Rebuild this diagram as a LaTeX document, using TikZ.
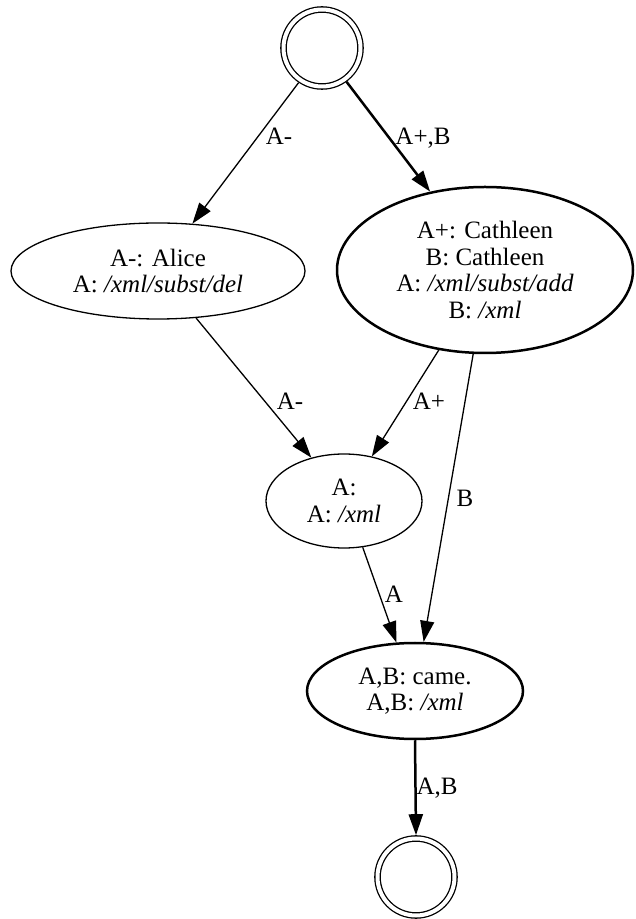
\documentclass[tikz,border=0pt]{standalone}
\usepackage{fontspec}
\setmainfont{Liberation Serif}
\usetikzlibrary{shapes.geometric,arrows.meta}
\newcommand\gvfont{\fontsize{25}{26.5}\selectfont}
\begin{document}
\begin{tikzpicture}[x=1pt,y=1pt,
  state/.style={ellipse, draw, line width=1.3pt, inner sep=0pt, align=center, font=\gvfont},
  bold state/.style={state, line width=2.5pt},
  terminal/.style={circle, draw, line width=1.3pt, double, double distance=4pt,
    minimum size=77pt, inner sep=0pt, outer sep=3.3pt},
  edge/.style={-{Triangle[length=21pt,width=14pt]}, line width=1.3pt},
  bold edge/.style={edge, line width=2.5pt},
  elabel/.style={font=\gvfont, inner sep=0pt, anchor=base}
]
\useasboundingbox (0,0) rectangle (635,919);

% states
\node[terminal] (start) at (322,871) {};
\node[state, minimum width=294pt, minimum height=96pt] (alice) at (158,648)
  {A-: Alice\\A: \textit{/xml/subst/del}};
\node[bold state, minimum width=296pt, minimum height=166pt] (cath) at (485,649)
  {A+: Cathleen\\B: Cathleen\\A: \textit{/xml/subst/add}\\B: \textit{/xml}};
\node[state, minimum width=156pt, minimum height=94pt] (mid) at (344,418)
  {A:\\A: \textit{/xml}};
\node[bold state, minimum width=216pt, minimum height=96pt] (came) at (415,228)
  {A,B: came.\\A,B: \textit{/xml}};
\node[terminal] (end) at (416,42) {};

% transitions
\draw[edge] (start.236) -- (alice.54);
\draw[bold edge] (start.306) -- (cath.125);
\draw[edge] (alice.309) -- (mid.127);
\draw[edge] (cath.240) -- (mid.58);
\draw[edge] (cath.262) -- (came.80);
\draw[edge] (mid.292) -- (came.111);
\draw[bold edge] (came.south) -- (end.north);

% transition labels
\node[elabel] (l1) at (279,774) {A-};
\node[elabel] (l2) at (423,774) {A+,B};
\node[elabel] (l3) at (290,509) {A-};
\node[elabel] (l4) at (429,509) {A+};
\node[elabel] (l5) at (465,412) {B};
\node[elabel] (l6) at (394,316) {A};
\node[elabel] (l7) at (437,124) {A,B};
\end{tikzpicture}
\end{document}
